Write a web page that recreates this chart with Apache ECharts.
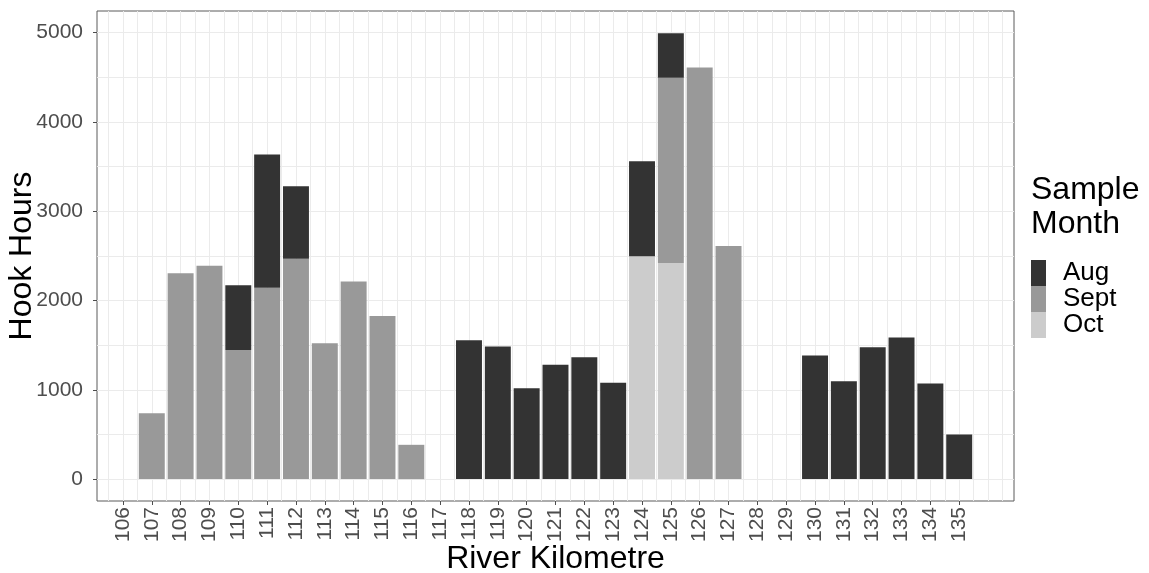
<!DOCTYPE html>
<html>
<head>
<meta charset="utf-8">
<script src="https://cdn.jsdelivr.net/npm/echarts@6/dist/echarts.min.js"></script>
<style>
  html, body { margin: 0; padding: 0; background: #ffffff; }
  #chart { width: 1149px; height: 573px; }
</style>
</head>
<body>
<div id="chart"></div>
<script>
// River kilometre of each sampling site
const kilometres = [106, 107, 108, 109, 110, 111, 112, 113, 114, 115,
                    116, 117, 118, 119, 120, 121, 122, 123, 124, 125,
                    126, 127, 128, 129, 130, 131, 132, 133, 134, 135];

// Hook hours fished per month (null = no effort that month)
const augHours  = [null, null, null, null, 724, 1492, 809, null, null, null,
                   null, null, 1555, 1484, 1018, 1279, 1365, 1078, 1063, 498,
                   null, null, null, null, 1383, 1096, 1476, 1584, 1070, 499];
const septHours = [null, 738, 2304, 2389, 1446, 2143, 2468, 1521, 2211, 1827,
                   384, null, null, null, null, null, null, null, null, 2073,
                   4608, 2610, null, null, null, null, null, null, null, null];
const octHours  = [null, null, null, null, null, null, null, null, null, null,
                   null, null, null, null, null, null, null, null, 2494, 2419,
                   null, null, null, null, null, null, null, null, null, null];

const yTickLabels = [0, 1000, 2000, 3000, 4000, 5000];
const monthNames = ['Aug', 'Sept', 'Oct'];

// Gridline positions: whole units plus the half-way minor lines
const xGridValues = [];
for (let v = 105.5; v <= 136.5; v += 0.5) xGridValues.push(v);
const yGridValues = [];
for (let v = 0; v <= 5000; v += 500) yGridValues.push(v);

const X_MIN = 105.1, X_MAX = 136.9;
const Y_MIN = -245, Y_MAX = 5240;

const font = '"Liberation Sans", Arial, sans-serif';
const gridColor = '#ebebeb';

// value first, km second; encode maps them back to y and x
function toPairs(values) {
  return kilometres.map((k, i) => [values[i] == null ? '-' : values[i], k]);
}

function barSeries(name, values, color) {
  return {
    name: name,
    type: 'bar',
    stack: 'hours',
    xAxisIndex: 0,
    yAxisIndex: 0,
    encode: { x: 1, y: 0 },
    barWidth: '90%',
    itemStyle: { color: color },
    emphasis: { disabled: true },
    data: toPairs(values)
  };
}

const chart = echarts.init(document.getElementById('chart'), null, { renderer: 'canvas' });

chart.setOption({
  animation: false,
  backgroundColor: '#ffffff',
  textStyle: { fontFamily: font },
  grid: {
    left: 97, right: 135, top: 11, bottom: 72,
    outerBoundsMode: 'none',
    containLabel: false,
    show: true,
    borderColor: '#5a5a5a',
    borderWidth: 1,
    backgroundColor: '#ffffff'
  },
  title: {
    text: 'Sample\nMonth',
    left: 1031,
    top: 173,
    padding: 0,
    textStyle: {
      fontFamily: font,
      fontSize: 32,
      lineHeight: 34,
      fontWeight: 'normal',
      color: '#000000'
    }
  },
  legend: {
    data: monthNames,
    orient: 'vertical',
    left: 1031,
    top: 260,
    padding: 0,
    itemGap: 0,
    itemWidth: 15,
    itemHeight: 26,
    icon: 'rect',
    selectedMode: false,
    textStyle: {
      fontFamily: font,
      fontSize: 26,
      lineHeight: 26,
      color: '#000000',
      padding: [0, 0, 0, 12]
    }
  },
  xAxis: [
    {
      type: 'value',
      min: X_MIN,
      max: X_MAX,
      position: 'bottom',
      name: 'River Kilometre',
      nameLocation: 'middle',
      nameGap: 42,
      nameMoveOverlap: false,
      nameTextStyle: { fontFamily: font, fontSize: 32, color: '#000000' },
      axisLine: { show: false, onZero: false },
      axisTick: {
        show: true,
        length: 4,
        customValues: kilometres,
        lineStyle: { color: '#4d4d4d', width: 1 }
      },
      axisLabel: {
        customValues: kilometres,
        rotate: 90,
        margin: 6,
        fontFamily: font,
        fontSize: 21,
        color: '#4d4d4d'
      },
      splitLine: { show: false }
    },
    {
      // vertical gridlines only
      type: 'value',
      min: X_MIN,
      max: X_MAX,
      position: 'top',
      axisLine: { show: false, onZero: false },
      axisTick: { show: false, customValues: xGridValues },
      axisLabel: { show: false },
      splitLine: { show: true, lineStyle: { color: gridColor, width: 1 } }
    }
  ],
  yAxis: [
    {
      type: 'value',
      min: Y_MIN,
      max: Y_MAX,
      position: 'left',
      name: 'Hook Hours',
      nameLocation: 'middle',
      nameGap: 59,
      nameMoveOverlap: false,
      nameTextStyle: { fontFamily: font, fontSize: 32, color: '#000000' },
      axisLine: { show: false, onZero: false },
      axisTick: {
        show: true,
        length: 4,
        customValues: yTickLabels,
        lineStyle: { color: '#4d4d4d', width: 1 }
      },
      axisLabel: {
        customValues: yTickLabels,
        margin: 14,
        fontFamily: font,
        fontSize: 21,
        color: '#4d4d4d',
        formatter: (v) => String(v)
      },
      splitLine: { show: false }
    },
    {
      // horizontal gridlines only
      type: 'value',
      min: Y_MIN,
      max: Y_MAX,
      position: 'right',
      axisLine: { show: false, onZero: false },
      axisTick: { show: false, customValues: yGridValues },
      axisLabel: { show: false },
      splitLine: { show: true, lineStyle: { color: gridColor, width: 1 } }
    }
  ],
  // stacked bottom to top: Oct, Sept, Aug
  series: [
    barSeries('Oct', octHours, '#cccccc'),
    barSeries('Sept', septHours, '#999999'),
    barSeries('Aug', augHours, '#333333')
  ]
});
</script>
</body>
</html>
